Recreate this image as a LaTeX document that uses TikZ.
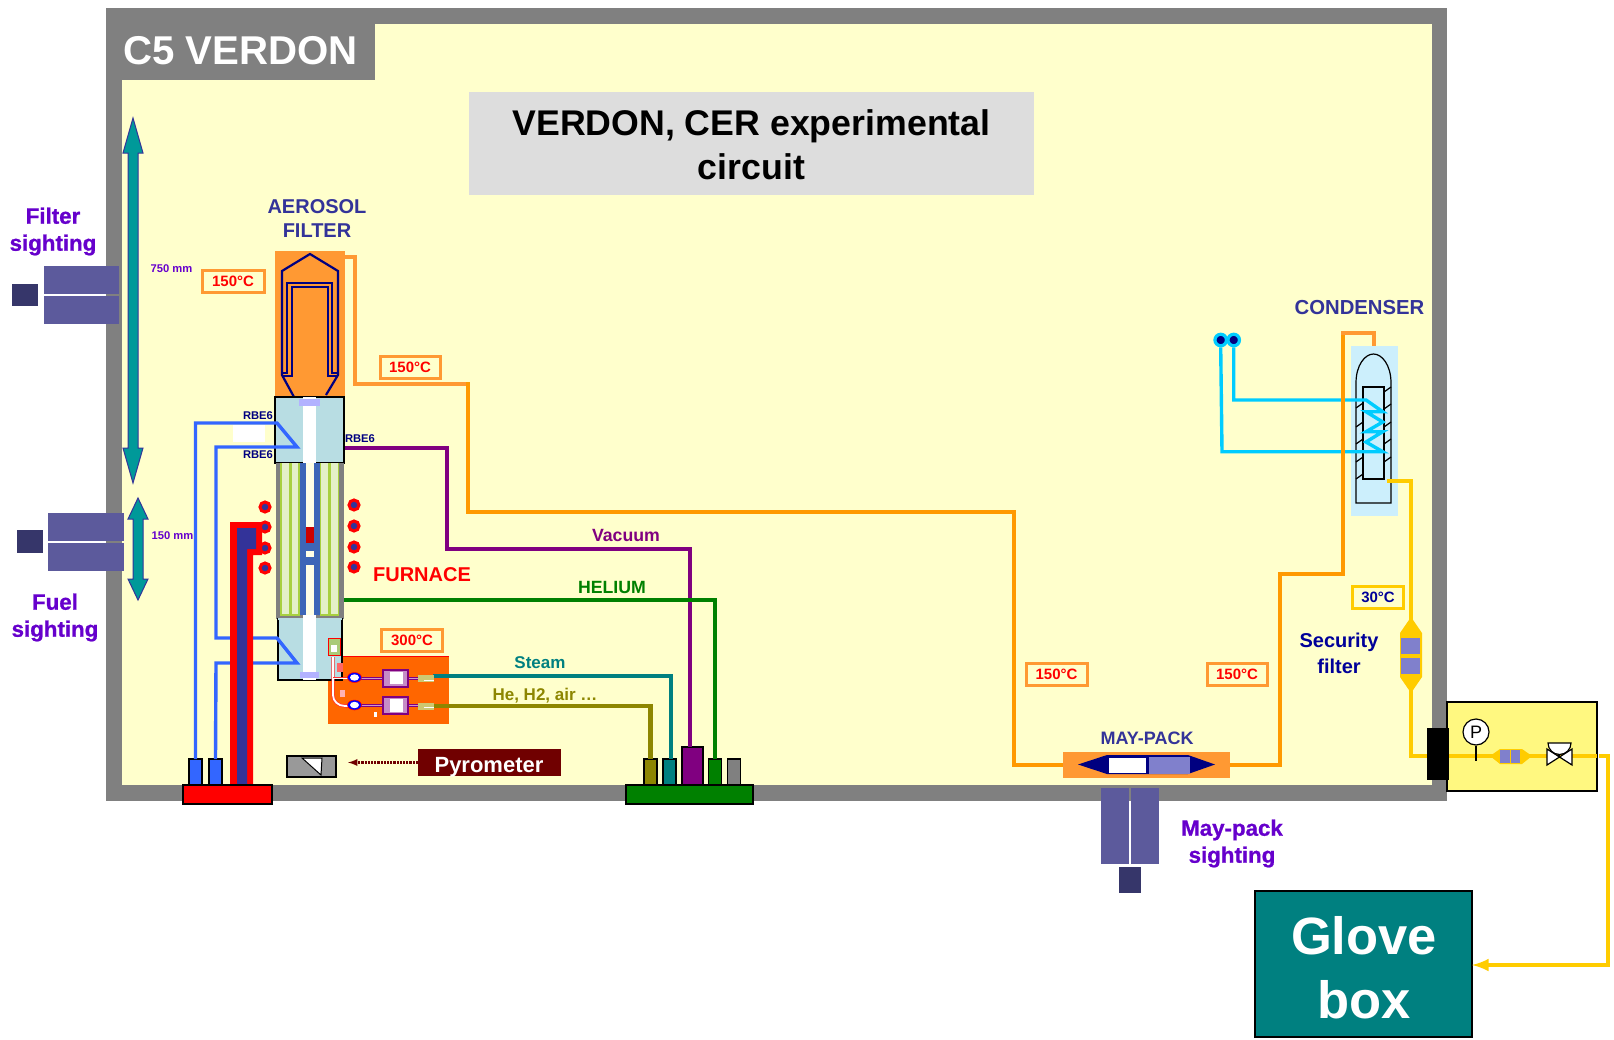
\documentclass[tikz,border=0pt]{standalone}
\usepackage{fontspec}
\setmainfont{Liberation Sans}
\newfontfamily\sightfont{Liberation Sans Bold}[FakeBold=0.9]
\usepackage{tikz}
\usetikzlibrary{arrows,shapes.geometric}
\definecolor{roomgray}{HTML}{808080}
\definecolor{roomyellow}{HTML}{FFFFCC}
\definecolor{titlegray}{HTML}{DDDDDD}
\definecolor{heatorange}{HTML}{FF9933}
\definecolor{pipeorange}{HTML}{FF9900}
\definecolor{pipeyellow}{HTML}{FFCC00}
\definecolor{pipeblue}{HTML}{3366FF}
\definecolor{pipecyan}{HTML}{00CCFF}
\definecolor{labelblue}{HTML}{333399}
\definecolor{sightblue}{HTML}{5C5A9C}
\definecolor{sightdark}{HTML}{36366A}
\definecolor{sightlabel}{HTML}{6600CC}
\definecolor{boxblue}{HTML}{B8DDE3}
\definecolor{filterblue}{HTML}{8080CC}
\definecolor{furnaceblue}{HTML}{3D66B8}
\definecolor{furnacepale}{HTML}{E4F0C8}
\definecolor{furnacestripe}{HTML}{A8D040}
\definecolor{dmdark}{HTML}{700000}
\definecolor{dimteal}{HTML}{009999}
\definecolor{navyblue}{HTML}{000080}
\definecolor{labelnavy}{HTML}{000099}
\definecolor{hotorange}{HTML}{FF6600}
\tikzset{
  blk/.style={inner sep=0pt,outer sep=0pt,anchor=north west},
  conn/.style={blk,draw=black,line width=1.5pt,minimum width=13pt,minimum height=26pt},
  pipe/.style={line width=4.6pt},
  thinpipe/.style={line width=3.4pt},
  lab/.style 2 args={inner sep=0pt,align=center,font=\bfseries\fontsize{#1}{#2}\selectfont},
  sightlab/.style={inner sep=0pt,align=center,text=sightlabel,font=\sightfont\fontsize{22.3}{27}\selectfont},
  temp/.style={blk,draw=heatorange,line width=3pt,fill=roomyellow,text=red,minimum height=22pt,align=center,font=\bfseries\fontsize{15}{15}\selectfont},
  sight/.style={blk,fill=sightblue},
  sightcam/.style={blk,fill=sightdark},
  heatdot/.style={circle,inner sep=0pt,minimum size=10pt,fill=labelblue,draw=red,line width=3pt},
  cooldot/.style={circle,inner sep=0pt,minimum size=11.5pt,fill=navyblue,draw=pipecyan,line width=3.2pt},
  dimarrow/.style={draw=labelblue,line width=1pt,fill=dimteal},
  minivalve/.style={ellipse,draw=red,line width=0.5pt,fill=blue,minimum width=14pt,minimum height=10pt,inner sep=0pt},
  minifilter/.style={blk,draw=violet,line width=2pt,fill=violet!45!white,minimum width=25pt,minimum height=17pt}
}
\begin{document}
\begin{tikzpicture}[x=1pt,y=-1pt]
\useasboundingbox (0,0) rectangle (1614,1039);
\fill[roomgray] (106,8) rectangle (1447,801);
\fill[roomyellow] (122,24) rectangle (1432,785);
\fill[roomgray] (106,8) rectangle (375,80);
\node[lab={40.2}{48},text=white] (roomtitle) at (240.5,51) {C5 VERDON};
\node[blk,fill=titlegray,minimum width=565pt,minimum height=103pt] (titlebox) at (469,92) {};
\node[lab={35.7}{44},text=black] (titletext) at (751.5,144.5) {VERDON, CER experimental\\circuit};

\node[sight,minimum width=75pt,minimum height=28pt] (filtersighta) at (44,266) {};
\node[sight,minimum width=75pt,minimum height=28pt] (filtersightb) at (44,296) {};
\node[sightcam,minimum width=26pt,minimum height=22pt] (filtercam) at (12,284) {};
\node[sightlab] (filtersightlabel) at (53,231.5) {Filter\\sighting};
\node[sight,minimum width=76pt,minimum height=28pt] (fuelsighta) at (48,513) {};
\node[sight,minimum width=76pt,minimum height=28pt] (fuelsightb) at (48,543) {};
\node[sightcam,minimum width=26pt,minimum height=23pt] (fuelcam) at (17,530) {};
\node[sightlab] (fuelsightlabel) at (55,617.5) {Fuel\\sighting};
\node[sight,minimum width=28pt,minimum height=76pt] (maysighta) at (1101,788) {};
\node[sight,minimum width=28pt,minimum height=76pt] (maysightb) at (1131,788) {};
\node[sightcam,minimum width=22pt,minimum height=26pt] (maycam) at (1119,867) {};
\node[sightlab] (maysightlabel) at (1232,843.5) {May-pack\\sighting};

\draw[dimarrow] (133,118) -- (143,153) -- (138,153) -- (138,448) -- (143,448) -- (133,483) -- (123,448) -- (128,448) -- (128,153) -- (123,153) -- cycle;
\draw[dimarrow] (138,498) -- (148,519) -- (143,519) -- (143,579) -- (148,579) -- (138,600) -- (128,579) -- (133,579) -- (133,519) -- (128,519) -- cycle;
\node[lab={11.2}{13},text=sightlabel] (dimlong) at (171.5,268.5) {750 mm};
\node[lab={11.2}{13},text=sightlabel] (dimshort) at (172.5,535.5) {150 mm};

\node[lab={20}{24},text=labelblue] (aerosollabel) at (317,219) {AEROSOL\\FILTER};
\node[blk,fill=heatorange,minimum width=70pt,minimum height=146pt] (aerosol) at (275,251) {};
\node[blk,fill=white,minimum width=32pt,minimum height=17pt] (whitepatch) at (233,425) {};
\draw[line width=2.2pt,color=navyblue] (294,397) -- (282,375) -- (282,271) -- (310,254) -- (338,271) -- (338,375) -- (326,395);
\draw[line width=1.8pt,color=navyblue] (282,373) -- (287,373) -- (287,283) -- (332,283) -- (332,373) -- (338,373);
\draw[line width=1.8pt,color=navyblue] (282,376) -- (292,376) -- (292,287) -- (328,287) -- (328,376) -- (338,376);

\node[blk,draw=black,line width=1.5pt,fill=boxblue,minimum width=69pt,minimum height=66pt] (topbox) at (275,397) {};
\fill[white] (303,397) rectangle (316,463);
\fill[blue!30!white] (299,399) rectangle (320,406);

\node[blk,fill=roomgray,minimum width=68pt,minimum height=156pt] (furnace) at (276,463) {};
\fill[furnacepale] (280,463) rectangle (299,615);
\fill[furnacepale] (320,463) rectangle (339,615);
\draw[line width=1.5pt,color=furnacestripe] (281,463) -- (281,615) -- (299,615) -- (299,463);
\draw[line width=2.5pt,color=furnacestripe] (290.5,463) -- (290.5,615);
\draw[line width=1.5pt,color=furnacestripe] (320.5,463) -- (320.5,615) -- (338.5,615) -- (338.5,463);
\draw[line width=2.5pt,color=furnacestripe] (329.5,463) -- (329.5,615);
\fill[roomyellow!50!white] (300,463) rectangle (320,615);
\fill[furnaceblue] (300,463) rectangle (306,615);
\fill[furnaceblue] (314,463) rectangle (320,615);
\fill[furnaceblue] (300,543) rectangle (320,551);
\fill[furnaceblue] (300,557) rectangle (320,565);
\fill[red!80!black] (306,527) rectangle (314,543);

\node[heatdot] (dotla) at (265,507) {};
\node[heatdot] (dotlb) at (265,527) {};
\node[heatdot] (dotlc) at (265,548) {};
\node[heatdot] (dotld) at (265,568) {};
\node[heatdot] (dotra) at (354,505) {};
\node[heatdot] (dotrb) at (354,526) {};
\node[heatdot] (dotrc) at (354,547) {};
\node[heatdot] (dotrd) at (354,567) {};
\node[lab={20}{24},text=red] (furnacelabel) at (422,575) {FURNACE};

\node[blk,fill=hotorange,minimum width=121pt,minimum height=68pt] (steamheat) at (328,656) {};
\draw[line width=0.8pt,red] (342,656) -- (449,656);
\node[blk,draw=black,line width=1.5pt,fill=boxblue,minimum width=64pt,minimum height=61pt] (lowbox) at (278,619) {};
\draw[line width=1.5pt,color=boxblue] (278,619) -- (342,619);
\fill[white] (303,615) rectangle (316,680);
\fill[blue!30!white] (300,672) rectangle (319,678);

\node[conn,fill=pipeblue] (bluea) at (189,759) {};
\node[conn,fill=pipeblue] (blueb) at (209,759) {};
\draw[thinpipe,pipeblue] (bluea.north) -- (195.5,423) -- (277,423) -- (297,447) -- (216,447) -- (216,638) -- (277,638) -- (297,663) -- (216,663) -- (blueb.north);
\fill[red] (230,785) -- (230,522) -- (262,522) -- (262,555) -- (253,555) -- (253,785) -- cycle;
\fill[labelblue] (237,785) -- (237,528) -- (256,528) -- (256,549) -- (247,549) -- (247,785) -- cycle;
\node[blk,draw=black,line width=1.5pt,fill=red,minimum width=89pt,minimum height=19pt] (redbase) at (183,785) {};
\node[lab={11.2}{13},text=navyblue] (rbea) at (258,416) {RBE6};
\node[lab={11.2}{13},text=navyblue] (rbeb) at (258,455) {RBE6};
\node[lab={11.2}{13},text=navyblue] (rbec) at (360,439) {RBE6};

\node[conn,fill=olive] (heconn) at (644,759) {};
\node[conn,fill=teal] (steamconn) at (663,759) {};
\node[conn,fill=violet,minimum width=21pt,minimum height=38pt] (vacconn) at (682,747) {};
\node[conn,fill=green!50!black] (helconn) at (708.5,759) {};
\node[conn,fill=gray] (spareconn) at (727.5,759) {};
\node[blk,draw=black,line width=1.5pt,fill=green!50!black,minimum width=127pt,minimum height=19pt] (greenbase) at (626,785) {};

\coordinate (vacstart) at (345,448);
\coordinate (helstart) at (344,600);
\draw[pipe,violet] (vacstart) -- (447,448) -- (447,549) -- (690,549) -- (690,747);
\draw[pipe,green!50!black] (helstart) -- (715,600) -- (715,759);
\node[lab={17.7}{21},text=violet] (vaclabel) at (626,535) {Vacuum};
\node[lab={17.7}{21},text=green!50!black] (hellabel) at (612,587.5) {HELIUM};

\coordinate (steamstart) at (433,676);
\coordinate (hestart) at (433,706);
\draw[pipe,teal] (steamstart) -- (671,676) -- (671,759);
\draw[pipe,olive] (hestart) -- (650.5,706) -- (650.5,759);
\node[lab={17}{20},text=teal] (steamlabel) at (540,663) {Steam};
\node[lab={17}{20},text=olive] (helabel) at (545,695.5) {He, H2, air …};

\draw[line width=3pt,violet] (354,678) -- (433,678);
\draw[line width=3pt,violet] (354,705) -- (433,705);
\draw[line width=1pt,violet!40!white] (361,678) -- (420,678);
\draw[line width=1pt,violet!40!white] (361,705) -- (420,705);
\draw[line width=3.2pt,red!80!white] (333,657) -- (333,695) .. controls (333,701) and (338,706) .. (345,706) -- (350,706);
\draw[line width=1.8pt,white] (333,657) -- (333,695) .. controls (333,701) and (338,706) .. (345,706) -- (350,706);
\draw[line width=2pt,red!80!white] (333,678) -- (349,678);
\draw[line width=1pt,white] (333,678) -- (349,678);
\node[minivalve] (steamvalve) at (354.5,677.5) {};
\node[minivalve] (hevalve) at (354.5,705) {};
\fill[white] (354.5,677.5) ellipse (4.5 and 3.2);
\fill[white] (354.5,705) ellipse (4.5 and 3.2);
\node[minifilter] (steamfilter) at (383,670) {};
\node[minifilter] (hefilter) at (383,697) {};
\fill[white] (390,672) rectangle (403,684);
\fill[white] (390,699) rectangle (403,712);
\node[blk,fill=olive!45!white,minimum width=16pt,minimum height=7pt] (steamtip) at (418,675) {};
\node[blk,fill=olive!45!white,minimum width=16pt,minimum height=7pt] (hetip) at (418,702.5) {};
\draw[line width=1pt,white] (424,680) -- (434,680);
\draw[line width=1pt,white] (424,707.5) -- (434,707.5);
\node[blk,fill=olive!50!green!50!white,draw=red,line width=0.4pt,minimum width=12pt,minimum height=17pt] (tcouple) at (328,638) {};
\fill[white] (331,645) rectangle (337,652);
\fill[red!60!white] (337,663) rectangle (343,672);
\fill[red!30!white] (340,690) rectangle (345,697);
\fill[white] (374,712) rectangle (377,717);

\node[temp,minimum width=62pt] (tempfilter) at (202,270) {150°C};
\node[temp,minimum width=60pt] (temppipe) at (380,356) {150°C};
\node[temp,minimum width=61pt] (tempsteam) at (381.5,629) {300°C};
\node[temp,minimum width=61pt] (tempmayin) at (1026,663) {150°C};
\node[temp,minimum width=60pt] (tempmayout) at (1207,663) {150°C};
\node[temp,draw=pipeyellow,text=labelnavy,minimum width=51pt] (tempcond) at (1352.5,586) {30°C};

\node[blk,draw=black,line width=2pt,fill=gray!80!white,minimum width=49pt,minimum height=21pt] (pyrometer) at (287,756) {};
\draw[line width=1pt,fill=white] (302,758) -- (322,758) -- (321,775) -- cycle;
\node[blk,fill=dmdark,minimum width=143pt,minimum height=27pt] (pyrobox) at (418,749) {};
\node[lab={22}{26},text=white] (pyrolabel) at (489,767) {Pyrometer};
\coordinate (pyrotip) at (348,762.5);
\draw[line width=2.2pt,dmdark,densely dotted,-latex] (pyrobox.west) -- (pyrotip);

\node[blk,fill=heatorange,minimum width=167pt,minimum height=26pt] (maypack) at (1063,752) {};
\fill[navyblue] (1078,764.5) -- (1107,755) -- (1188,755) -- (1215,764.5) -- (1188,774) -- (1107,774) -- cycle;
\fill[white] (1109,758) rectangle (1146,773);
\fill[filterblue] (1149,757) rectangle (1190,774);
\node[lab={18}{22},text=labelblue] (maylabel) at (1147,738.5) {MAY-PACK};

\node[lab={20.3}{24},text=labelblue] (condlabel) at (1359.5,308) {CONDENSER};
\node[blk,fill=cyan!20!white,minimum width=47pt,minimum height=170pt] (condenser) at (1351,346) {};
\draw[line width=1.2pt] (1356,383) .. controls (1356,365) and (1365,354) .. (1373.5,354) .. controls (1382,354) and (1391,365) .. (1391,383) -- (1391,503) -- (1356,503) -- cycle;
\draw[line width=1.2pt] (1363,387) rectangle (1384,479);
\draw[line width=1.2pt] (1356,408) -- (1363,403);
\draw[line width=1.2pt] (1356,427) -- (1363,422);
\draw[line width=1.2pt] (1356,444) -- (1363,439);
\draw[line width=1.2pt] (1356,462) -- (1363,457);
\draw[line width=1.2pt] (1356,479) -- (1363,474);
\draw[line width=1.2pt] (1384,392) -- (1391,387);
\draw[line width=1.2pt] (1384,409) -- (1391,404);
\draw[line width=1.2pt] (1384,427) -- (1391,422);
\draw[line width=1.2pt] (1384,444) -- (1391,439);
\draw[line width=1.2pt] (1384,462) -- (1391,457);

\node[cooldot] (coolin) at (1220.7,340) {};
\node[cooldot] (coolout) at (1233.7,340) {};
\draw[thinpipe,pipecyan] (coolout.south) -- (1233.7,400) -- (1366,400) -- (1382.7,411.7) -- (1366,411.7) -- (1382.7,422) -- (1366,431.7) -- (1382.7,431.7) -- (1366,442) -- (1382.7,451.7) -- (1222,451.7) -- (coolin.south);

\coordinate (orangestart) at (345,257);
\coordinate (orangemid) at (1063,765);
\draw[pipe,heatorange] (orangestart) -- (355,257) -- (355,384) -- (468,384);
\draw[pipe,pipeorange] (468,382) -- (468,512) -- (1014,512) -- (1014,765) -- (orangemid);
\coordinate (orangeout) at (1230,765);
\coordinate (condin) at (1374,346);
\draw[pipe,pipeorange] (orangeout) -- (1280,765) -- (1280,574) -- (1343,574) -- (1343,333);
\draw[pipe,heatorange] (1341,333) -- (1374,333) -- (condin);

\coordinate (yellowstart) at (1387,481);
\node[blk,draw=black,line width=2pt,fill=yellow!50!white,minimum width=150pt,minimum height=89pt] (vacbox) at (1447,702) {};
\node[blk,draw=black,line width=2pt,fill=teal,minimum width=217pt,minimum height=146pt] (glovebox) at (1255,891) {};
\node[lab={52.5}{64},text=white] (glovelabel) at (1364,968) {Glove\\box};
\draw[pipe,pipeyellow] (yellowstart) -- (1411,481) -- (1411,756) -- (1597,756);
\coordinate (gloveturn) at (1599,756);
\draw[pipe,pipeyellow,-latex] (gloveturn) -- (1608,756) -- (1608,965) -- (1472,965);
\fill[pipeyellow] (1411,617) -- (1422,633) -- (1422,677) -- (1411,693) -- (1400,677) -- (1400,633) -- cycle;
\fill[filterblue] (1401,638) rectangle (1420,654);
\fill[filterblue] (1401,658) rectangle (1420,674);
\node[lab={20}{26},text=labelnavy] (seclabel) at (1339,653.5) {Security\\filter};
\node[blk,fill=black,minimum width=22pt,minimum height=52pt] (passthrough) at (1427,728) {};

\node[circle,draw=black,line width=1.2pt,fill=white,minimum size=26pt,inner sep=0pt,font=\fontsize{18}{18}\selectfont] (gauge) at (1476,732) {P};
\draw[line width=1.5pt] (gauge.south) -- (1476,761);
\fill[pipeyellow] (1490,756) -- (1500,749) -- (1522,749) -- (1532,756) -- (1522,764) -- (1500,764) -- cycle;
\fill[filterblue] (1500,750) rectangle (1510,763);
\fill[filterblue] (1511,750) rectangle (1520,763);
\draw[line width=1.2pt,fill=white] (1547,749) -- (1572,765) -- (1572,749) -- (1547,765) -- cycle;
\draw[line width=1.5pt] (1559,757) -- (1559,743);
\draw[line width=1.2pt,fill=white] (1548,743) arc (180:0:11.5) -- cycle;
\end{tikzpicture}
\end{document}
